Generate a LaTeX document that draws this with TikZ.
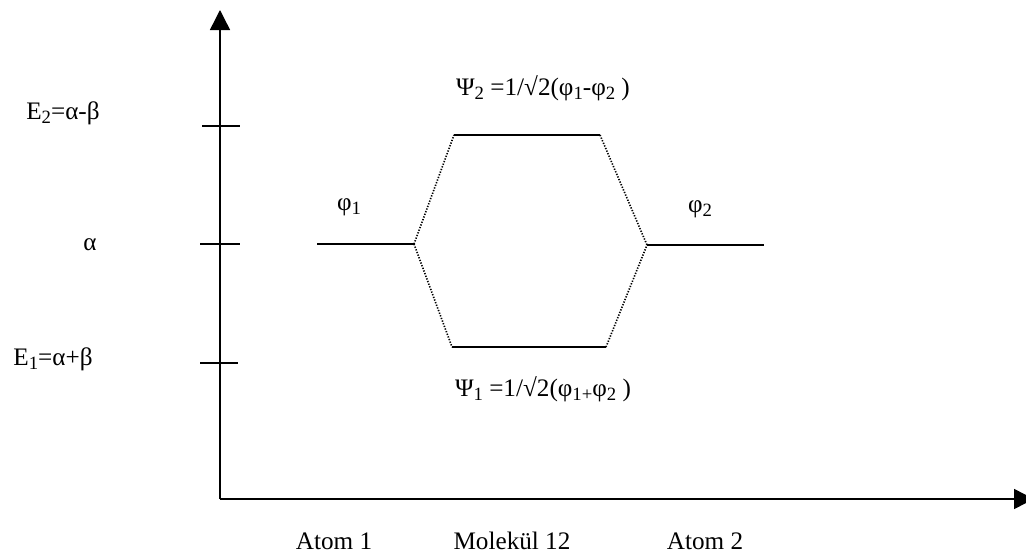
\documentclass[tikz,border=0pt]{standalone}
\usepackage{fontspec}
\setmainfont{Liberation Serif}
\usepackage{tikz}
\usetikzlibrary{arrows.meta, positioning}

\newcommand{\lo}[1]{\raisebox{-0.4ex}{\fontsize{16}{18}\selectfont #1}}

\begin{document}
\begin{tikzpicture}[
    x=0.03cm, y=-0.03cm,
    lbl/.style={font=\fontsize{21.5}{24}\selectfont, inner sep=1pt},
    axis/.style={line width=1.2pt, -{Triangle[length=6mm, width=6mm]}},
    lvl/.style={line width=1.3pt},
    tck/.style={line width=1pt},
    con/.style={line width=1.4pt, dash pattern=on 1.1pt off 1.3pt}
]
\useasboundingbox (0,0) rectangle (1026,560);

% axes
\coordinate (O) at (220,499);
\coordinate (ytip) at (220,10);
\coordinate (xtip) at (1034,499);
\draw[axis] (O) -- (ytip);
\draw[axis] (O) -- (xtip);

% energy ticks
\coordinate (tE2l) at (202,126);  \coordinate (tE2r) at (240,126);
\coordinate (tAl)  at (200,244);  \coordinate (tAr)  at (240,244);
\coordinate (tE1l) at (200,363);  \coordinate (tE1r) at (238,363);
\draw[tck] (tE2l) -- (tE2r);
\draw[tck] (tAl) -- (tAr);
\draw[tck] (tE1l) -- (tE1r);

\node[lbl] (E2) at (63,113) {E\lo{2}=α-β};
\node[lbl] (alpha) at (90,245) {α};
\node[lbl] (E1) at (53,359) {E\lo{1}=α+β};

% atomic levels
\coordinate (p1l) at (317,244); \coordinate (p1r) at (414,244);
\coordinate (p2l) at (647,245); \coordinate (p2r) at (764,245);
\draw[lvl] (p1l) -- (p1r);
\draw[lvl] (p2l) -- (p2r);
\node[lbl] (phi1) at (349,207) {φ\lo{1}};
\node[lbl] (phi2) at (700,209) {φ\lo{2}};

% molecular levels
\coordinate (s2l) at (454,135); \coordinate (s2r) at (600,135);
\coordinate (s1l) at (452,347); \coordinate (s1r) at (606,347);
\draw[lvl] (s2l) -- (s2r);
\draw[lvl] (s1l) -- (s1r);
\node[lbl] (psi2) at (543,88) {Ψ\lo{2} =1/√2(φ\lo{1}-φ\lo{2} )};
\node[lbl] (psi1) at (543,389) {Ψ\lo{1} =1/√2(φ\lo{1+}φ\lo{2} )};

% correlation lines
\draw[con] (p1r) -- (s2l);
\draw[con] (p1r) -- (s1l);
\draw[con] (s2r) -- (p2l);
\draw[con] (s1r) -- (p2l);

% x labels
\node[lbl] (at1) at (334,541) {Atom 1};
\node[lbl] (mol) at (512,541) {Molekül 12};
\node[lbl] (at2) at (705,541) {Atom 2};

\end{tikzpicture}
\end{document}
